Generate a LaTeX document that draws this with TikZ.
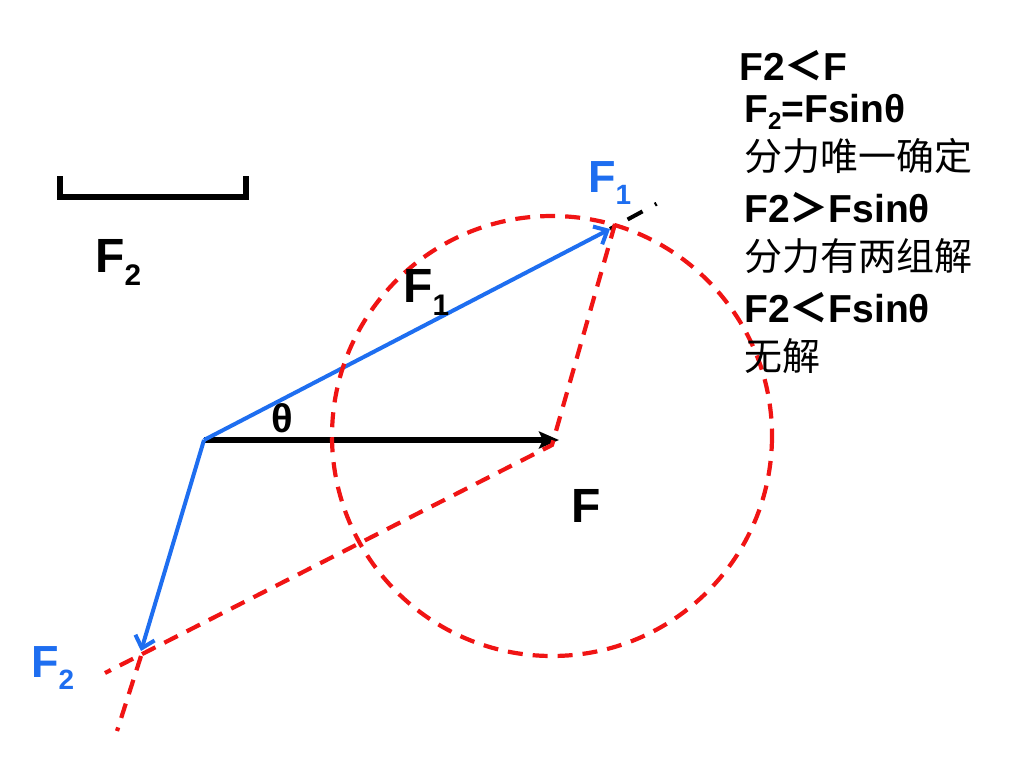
\documentclass[tikz,border=0pt]{standalone}
\usepackage{fontspec}
\setmainfont{Liberation Sans}
\newfontfamily\cjk{Noto Sans CJK SC}
\usetikzlibrary{arrows.meta}
\definecolor{myblue}{RGB}{30,110,240}
\definecolor{myred}{RGB}{240,20,20}
\newcommand\mysub[1]{\raisebox{-0.28em}{\scalebox{0.62}{#1}}}
\newcommand\mysubs[1]{\raisebox{-0.2em}{\scalebox{0.62}{#1}}}
\begin{document}
\begin{tikzpicture}[x=1pt,y=-1pt,
  lbl/.style={font=\bfseries\fontsize{48}{48}\selectfont, inner sep=0pt, anchor=base west},
  txt/.style={font=\bfseries\fontsize{39}{39}\selectfont, inner sep=0pt, anchor=base west},
  cjktxt/.style={font=\cjk\fontsize{38}{38}\selectfont, inner sep=0pt, anchor=base west},
  reddash/.style={myred, line width=4.2pt, dash pattern=on 15pt off 10pt},
  bluevec/.style={myblue, line width=4pt, -{Straight Barb[length=11pt,width=20pt]}}]
\useasboundingbox (0,0) rectangle (1024,768);
% key points
\coordinate (O) at (204,440);
\coordinate (Ftip) at (559,440);
\coordinate (F1tip) at (610,229);
\coordinate (F2tip) at (141,651);
\coordinate (ext) at (658,203);
\coordinate (C) at (552,436);
\coordinate (F1c) at (615,224);
\coordinate (Fc) at (552,445);
\coordinate (Lend) at (105,673);
\coordinate (F2c) at (141,656);
\coordinate (L3end) at (117,731);
% bracket for F2
\coordinate (b1) at (60,176);
\coordinate (b2) at (60,197);
\coordinate (b3) at (246,197);
\coordinate (b4) at (246,176);
\draw[line width=5.5pt] (b1) -- (b2) -- (b3) -- (b4);
% vectors
\draw[line width=5.5pt, -{Stealth[length=20pt,width=17pt,inset=4pt]}] (O) -- (Ftip);
\draw[line width=4pt, dash pattern=on 5pt off 15pt on 17pt off 14pt on 2pt] (F1tip) -- (ext);
\draw[bluevec] (O) -- (F1tip);
\draw[bluevec] (O) -- (F2tip);
% red construction
\draw[reddash] (C) circle[radius=220];
\draw[reddash] (F1c) -- (Fc) -- (Lend);
\draw[reddash] (F2c) -- (L3end);
% labels
\node[lbl] (lF2) at (95,272) {F\mysub{2}};
\node[lbl] (lF1) at (403,302) {F\mysub{1}};
\node[lbl, font=\bfseries\fontsize{40}{40}\selectfont] (lth) at (271,432) {θ};
\node[lbl] (lF) at (571,522) {F};
\node[lbl, myblue, font=\bfseries\fontsize{45}{45}\selectfont] (bF1) at (588,192) {F\mysub{1}};
\node[lbl, myblue, font=\bfseries\fontsize{45}{45}\selectfont] (bF2) at (31,677) {F\mysub{2}};
% text block
\node[txt] (t1) at (739,80) {F2{\cjk ＜}F};
\node[txt] (t2) at (744,122) {F\mysubs{2}=Fsinθ};
\node[cjktxt] (t3) at (744,170) {分力唯一确定};
\node[txt] (t4) at (744,222) {F2{\cjk ＞}Fsinθ};
\node[cjktxt] (t5) at (744,270) {分力有两组解};
\node[txt] (t6) at (744,322) {F2{\cjk ＜}Fsinθ};
\node[cjktxt] (t7) at (744,370) {无解};
\end{tikzpicture}
\end{document}
